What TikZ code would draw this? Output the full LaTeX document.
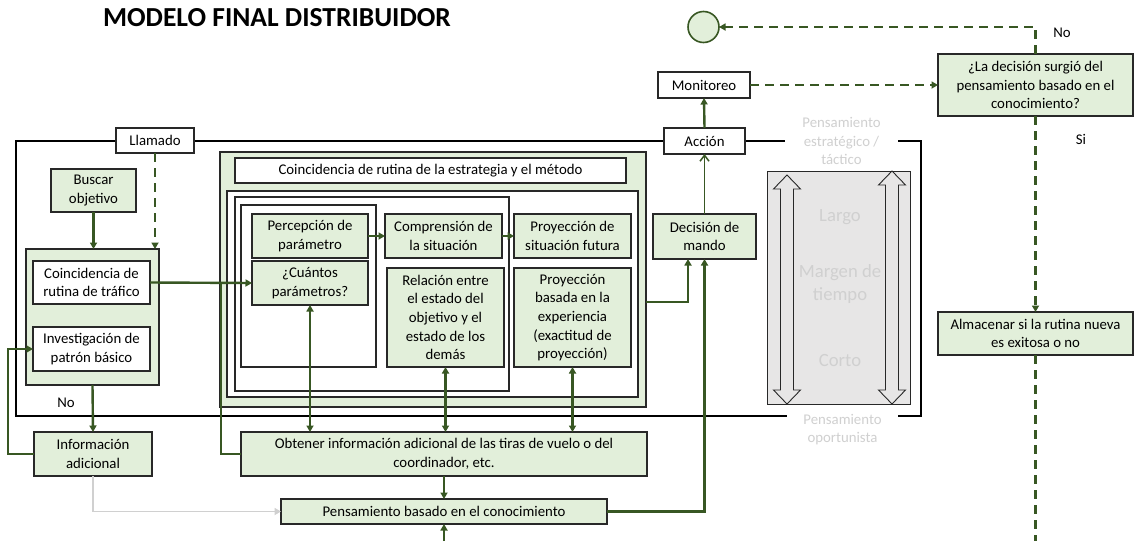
\documentclass[tikz,border=0pt]{standalone}
\usepackage{fontspec}
\setmainfont{Carlito}
\usetikzlibrary{arrows.meta,shadows,calc}
\definecolor{dkgreen}{RGB}{56,87,35}
\definecolor{ltgreen}{RGB}{226,239,218}
\definecolor{panelgray}{RGB}{231,230,230}
\definecolor{ghost}{RGB}{208,208,208}
\definecolor{edge}{RGB}{40,40,40}
\begin{document}
\begin{tikzpicture}[x=1pt,y=-1pt,
  every node/.style={font=\fontsize{14.8}{18.6}\selectfont, inner sep=0pt, outer sep=0pt, align=center, text=black},
  boxbase/.style={draw=edge, line width=1.2pt,
    drop shadow={shadow xshift=1.2pt, shadow yshift=-1.2pt, fill=black!45, opacity=1}},
  gbox/.style={boxbase, fill=ltgreen},
  wbox/.style={boxbase, fill=white},
  gline/.style={draw=dkgreen, line width=2.4pt},
  garrow/.style={gline, -{Triangle[length=6.5pt,width=7pt]}},
  gboth/.style={gline, {Triangle[length=6.5pt,width=7pt]}-{Triangle[length=6.5pt,width=7pt]}},
  gdash/.style={gline, dash pattern=on 9pt off 6pt},
  gdasharrow/.style={gdash, -{Triangle[length=6.5pt,width=7pt]}},
  openarrow/.style={draw=dkgreen, line width=1.5pt, -{Straight Barb[length=6pt,width=9pt]}},
  greyarrow/.style={draw=ghost, line width=1.8pt, -{Triangle[length=6.5pt,width=7pt]}},
  ghosttxt/.style={text=ghost},
  blockarrow/.style={draw=edge, line width=0.9pt, fill=panelgray}
]
\useasboundingbox (0,0) rectangle (1134,541);

% title
\node[font=\fontsize{27.5}{33}\selectfont\bfseries] (title) at (277,18) {MODELO FINAL DISTRIBUIDOR};

% outer frame around the routine-matching stages
\draw[draw=black, line width=1.2pt] (16,141) rectangle (921,416);

% time-margin panel
\draw[draw=edge, line width=1pt, fill=panelgray] (767,171) rectangle (910,404);
\foreach \cx/\top in {787/175, 892/171}{
  \draw[blockarrow] (\cx,\top) -- (\cx+13.5,\top+14) -- (\cx+6.5,\top+14) -- (\cx+6.5,390)
    -- (\cx+13.5,390) -- (\cx,404) -- (\cx-13.5,390) -- (\cx-6.5,390) -- (\cx-6.5,\top+14)
    -- (\cx-13.5,\top+14) -- cycle;
}
\node[ghosttxt, font=\fontsize{18.67}{22.5}\selectfont] (largo) at (840,217) {Largo};
\node[ghosttxt, font=\fontsize{18.67}{22.5}\selectfont] (margen) at (840,284) {Margen de\\tiempo};
\node[ghosttxt, font=\fontsize{18.67}{22.5}\selectfont] (corto) at (840,361) {Corto};
\node[ghosttxt, fill=white, minimum width=113] (estrat) at (841.5,141) {Pensamiento\\estratégico /\\táctico};
\node[ghosttxt, fill=white, minimum width=111] (oport) at (842.5,429.5) {Pensamiento\\oportunista};

% frame labels
\node[wbox, minimum width=78, minimum height=25] (lla) at (155,140.5) {Llamado};
\node[wbox, minimum width=81, minimum height=26] (acc) at (704.5,141) {Acción};
\node[wbox, minimum width=92, minimum height=26] (mon) at (704,85) {Monitoreo};

% left column
\node[gbox, minimum width=85, minimum height=43] (bus) at (93.5,190.5) {Buscar\\objetivo};
\node[gbox, minimum width=133, minimum height=136] (lc) at (92.5,317) {};
\node[wbox, minimum width=117, minimum height=43] (ctr) at (91.5,282.5) {Coincidencia de\\rutina de tráfico};
\node[wbox, minimum width=117, minimum height=44] (inv) at (91.5,349) {Investigación de\\patrón básico};
\node[gbox, minimum width=118, minimum height=44] (inf) at (93,454) {Información\\adicional};
\node (no1) at (66,403) {No};

% strategy and method block
\node[gbox, minimum width=426, minimum height=255] (mc) at (433,279.5) {};
\node[wbox, minimum width=391, minimum height=25] (est) at (430.5,170.5) {Coincidencia de rutina de la estrategia y el método};
\node[wbox, minimum width=411, minimum height=206] (c1) at (432.5,294) {};
\node[wbox, minimum width=274, minimum height=194] (c2) at (372,294) {};
\node[wbox, minimum width=135, minimum height=162] (c3) at (308.5,286) {};
\node[gbox, minimum width=116, minimum height=44] (per) at (310,236) {Percepción de\\parámetro};
\node[gbox, minimum width=116, minimum height=44] (cua) at (310,283) {¿Cuántos\\parámetros?};
\node[gbox, minimum width=117, minimum height=44] (com) at (443.5,236) {Comprensión de\\la situación};
\node[gbox, minimum width=117, minimum height=44] (pro) at (572.5,236) {Proyección de\\situación futura};
\node[gbox, minimum width=117, minimum height=99] (rel) at (445.5,317.5) {Relación entre\\el estado del\\objetivo y el\\estado de los\\demás};
\node[gbox, minimum width=117, minimum height=99] (pbe) at (572.5,317.5) {Proyección\\basada en la\\experiencia\\(exactitud de\\proyección)};

% decision and lower boxes
\node[gbox, minimum width=103, minimum height=45] (dm) at (704.5,236.5) {Decisión de\\mando};
\node[gbox, minimum width=406, minimum height=44] (obt) at (444,454) {Obtener información adicional de las tiras de vuelo o del\\coordinador, etc.};
\node[gbox, minimum width=326, minimum height=25] (pbc) at (444,511.5) {Pensamiento basado en el conocimiento};

% right column
\node[draw=dkgreen, line width=1.6pt, fill=ltgreen, circle, minimum size=31] (end) at (703.5,27) {};
\node[gbox, minimum width=195, minimum height=62] (dec) at (1035.5,85) {¿La decisión surgió del\\pensamiento basado en el\\conocimiento?};
\node[gbox, minimum width=195, minimum height=43] (alm) at (1035.5,333.5) {Almacenar si la rutina nueva\\es exitosa o no};
\node (no2) at (1062,33) {No};
\node (si) at (1081,139) {Si};

% free ends and junctions
\coordinate (jn) at (221,283);
\coordinate (mcout) at (646,302);
\coordinate (pbcin) at (444,541);
\coordinate (almend) at (1035.5,541);

% connectors
\draw[garrow] (bus.south) -- (bus.south |- lc.north);
\draw[gdasharrow] (lla.south) -- (lla.south |- lc.north);
\draw[garrow] (lc.south) -- (inf.north);
\draw[garrow] (inf.west) -- ++(-26,0) |- (inv.west);
\draw[greyarrow] (inf.south) |- (pbc.west);
\draw[garrow] (ctr.east) -- (cua.west);
\draw[gline] (obt.west) -| (jn);
\draw[garrow] (per.east) -- (com.west);
\draw[garrow] (com.east) -- (pro.west);
\draw[gboth] (cua.south) -- (cua.south |- obt.north);
\draw[gboth] (rel.south) -- (rel.south |- obt.north);
\draw[gboth] (pbe.south) -- (pbe.south |- obt.north);
\draw[garrow] (obt.south) -- (pbc.north);
\draw[garrow] (pbcin) -- (pbc.south);
\draw[garrow] (mcout) -| ([xshift=-16.5pt]dm.south);
\draw[garrow] (pbc.east) -| (dm.south);
\draw[openarrow] (dm.north) -- (acc.south);
\draw[garrow] (acc.north) -- (mon.south);
\draw[gdasharrow] (mon.east) -- (dec.west);
\draw[gdasharrow] (dec.north) |- (end.east);
\draw[gdasharrow] (dec.south) -- (alm.north);
\draw[gdash] (alm.south) -- (almend);
\end{tikzpicture}
\end{document}
